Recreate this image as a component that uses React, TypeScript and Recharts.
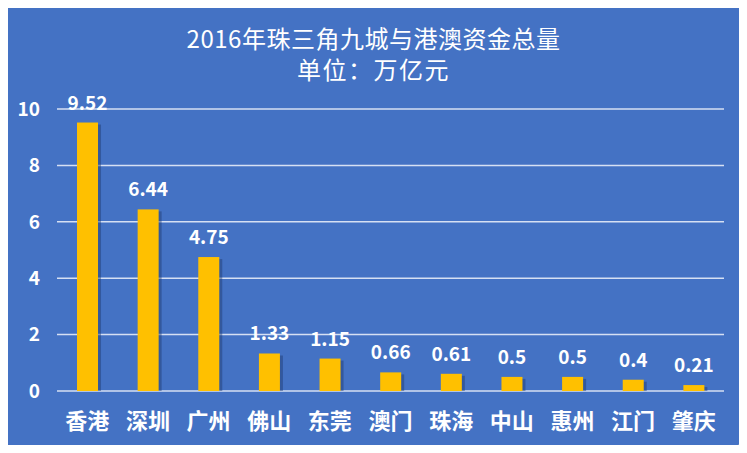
import { BarChart, Bar, XAxis, YAxis, CartesianGrid, LabelList } from "recharts";

const cities = ["香港", "深圳", "广州", "佛山", "东莞", "澳门", "珠海", "中山", "惠州", "江门", "肇庆"];
const totals = [9.52, 6.44, 4.75, 1.33, 1.15, 0.66, 0.61, 0.5, 0.5, 0.4, 0.21];
const yTicks = [0, 2, 4, 6, 8, 10];

const data = cities.map((city, i) => ({ city, total: totals[i] }));

const FONT = '"Noto Sans CJK SC", "Noto Sans", sans-serif';

// 柱子带一点右下阴影
function ShadowBar(props: any) {
  const { x, y, width, height, fill } = props;
  if (!height || height <= 0) return null;
  return (
    <g>
      <rect x={x + 3} y={y + 2} width={width} height={height - 2} fill="#1f3a6e" opacity={0.45} />
      <rect x={x} y={y} width={width} height={height} fill={fill} />
    </g>
  );
}

export default function App() {
  return (
    <div style={{ position: "relative", width: 747, height: 453, margin: -8, background: "#fff", fontFamily: FONT }}>
      <div
        style={{
          position: "absolute",
          left: 4,
          top: 5,
          width: 738,
          height: 441,
          background: "#4472C4",
          borderRadius: 8,
          boxShadow: "0 1px 3px rgba(0,0,0,0.35)",
        }}
      />
      <div style={{ position: "absolute", left: 0, top: 25, width: 747, textAlign: "center", color: "#fff", fontSize: 24, lineHeight: "26px", letterSpacing: 0.5 }}>
        2016年珠三角九城与港澳资金总量
      </div>
      <div style={{ position: "absolute", left: 0, top: 56, width: 747, textAlign: "center", color: "#fff", fontSize: 24, lineHeight: "26px", letterSpacing: 1.5 }}>
        单位：万亿元
      </div>
      <div style={{ position: "absolute", left: 0, top: 0 }}>
        <BarChart width={747} height={453} data={data} margin={{ top: 109, right: 23, bottom: 32, left: 0 }} barCategoryGap="33%">
          <CartesianGrid horizontal vertical={false} stroke="#d6e0f3" strokeWidth={1.5} />
          <XAxis
            dataKey="city"
            axisLine={false}
            tickLine={false}
            interval={0}
            tickMargin={16}
            tick={{ fill: "#fff", fontSize: 22, fontWeight: 700, fontFamily: FONT }}
          />
          <YAxis
            width={57}
            domain={[0, 10]}
            ticks={yTicks}
            axisLine={false}
            tickLine={false}
            tickMargin={11}
            tick={{ fill: "#fff", fontSize: 19, fontWeight: 700, fontFamily: FONT }}
          />
          <Bar dataKey="total" fill="#FFC000" isAnimationActive={false} shape={<ShadowBar />}>
            <LabelList
              dataKey="total"
              position="top"
              offset={13}
              fill="#fff"
              style={{ fontSize: 19, fontWeight: 700, fontFamily: FONT }}
            />
          </Bar>
        </BarChart>
      </div>
    </div>
  );
}
